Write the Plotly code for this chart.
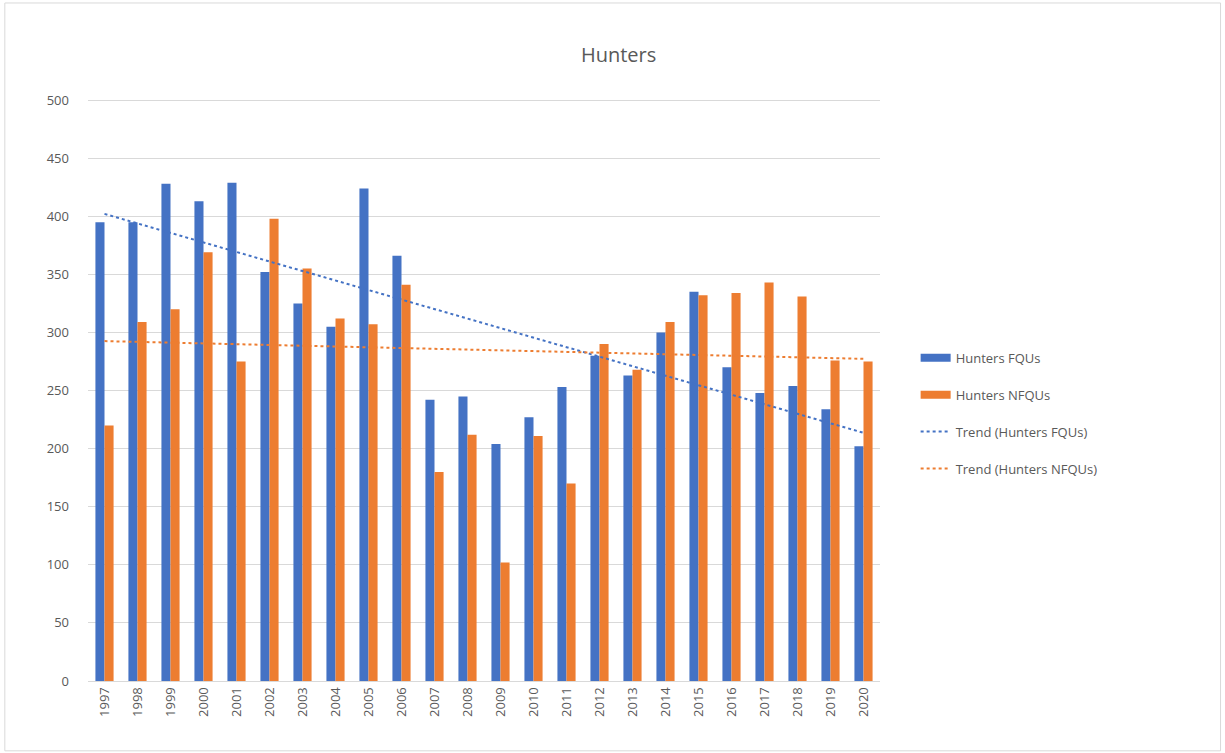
import numpy as np
import plotly.graph_objects as go

years = [str(y) for y in range(1997, 2021)]
hunters_fqus = [395, 395, 428, 413, 429, 352, 325, 305, 424, 366, 242, 245,
                204, 227, 253, 280, 263, 300, 335, 270, 248, 254, 234, 202]
hunters_nfqus = [220, 309, 320, 369, 275, 398, 355, 312, 307, 341, 180, 212,
                 102, 211, 170, 290, 268, 309, 332, 334, 343, 331, 276, 275]
y_ticks = [0, 50, 100, 150, 200, 250, 300, 350, 400, 450, 500]

BLUE = "#4472C4"
ORANGE = "#ED7D31"
TEXT = "#595959"
FONT = "Open Sans"

# linear trend lines fitted over the year index
idx = np.arange(len(years))
fit_f = np.polyval(np.polyfit(idx, hunters_fqus, 1), idx)
fit_n = np.polyval(np.polyfit(idx, hunters_nfqus, 1), idx)

fig = go.Figure()
fig.add_trace(go.Bar(x=years, y=hunters_fqus, name="Hunters FQUs",
                     marker=dict(color=BLUE, line=dict(width=0)), showlegend=False))
fig.add_trace(go.Bar(x=years, y=hunters_nfqus, name="Hunters NFQUs",
                     marker=dict(color=ORANGE, line=dict(width=0)), showlegend=False))
fig.add_trace(go.Scatter(x=years, y=fit_f, mode="lines", name="Trend (Hunters FQUs)",
                         line=dict(color=BLUE, width=2, dash="dot"), showlegend=False))
fig.add_trace(go.Scatter(x=years, y=fit_n, mode="lines", name="Trend (Hunters NFQUs)",
                         line=dict(color=ORANGE, width=2, dash="dot"), showlegend=False))

# legend entries (wide swatches for the bars, dotted lines for the trends)
legend_items = [
    ("Hunters FQUs", BLUE, 8, "solid"),
    ("Hunters NFQUs", ORANGE, 8, "solid"),
    ("Trend (Hunters FQUs)", BLUE, 2, "dot"),
    ("Trend (Hunters NFQUs)", ORANGE, 2, "dot"),
]
for i, (name, color, width, dash) in enumerate(legend_items):
    fig.add_trace(go.Scatter(x=[None], y=[None], mode="lines", name=name,
                             legendgroup=f"g{i}",
                             line=dict(color=color, width=width, dash=dash)))

fig.update_layout(
    width=1225, height=753,
    paper_bgcolor="white", plot_bgcolor="white",
    margin=dict(l=88, r=345, t=99, b=72),
    barmode="group", bargap=0.45, bargroupgap=0,
    font=dict(family=FONT, color=TEXT, size=13),
    title=dict(text="Hunters", x=0.505, xanchor="center", y=0.927, yanchor="middle",
               font=dict(family=FONT, size=20, color=TEXT)),
    legend=dict(x=1.045, y=0.46, xanchor="left", yanchor="middle",
                font=dict(family=FONT, size=13, color=TEXT),
                tracegroupgap=17, bgcolor="rgba(0,0,0,0)"),
    xaxis=dict(tickangle=-90, showgrid=False, ticks="", showline=True,
               linecolor="#d9d9d9", linewidth=1,
               tickfont=dict(family=FONT, size=13, color=TEXT)),
    yaxis=dict(range=[0, 501], tickvals=y_ticks, showgrid=True, gridcolor="#d9d9d9",
               gridwidth=1, zeroline=False, ticks="", showline=False,
               ticklabelstandoff=18,
               tickfont=dict(family=FONT, size=13, color=TEXT)),
    shapes=[dict(type="rect", xref="paper", yref="paper",
                 x0=-0.105, x1=1.43, y0=-0.12, y1=1.165,
                 line=dict(color="#d9d9d9", width=1), fillcolor="rgba(0,0,0,0)")],
)

fig.write_html("out.html")
